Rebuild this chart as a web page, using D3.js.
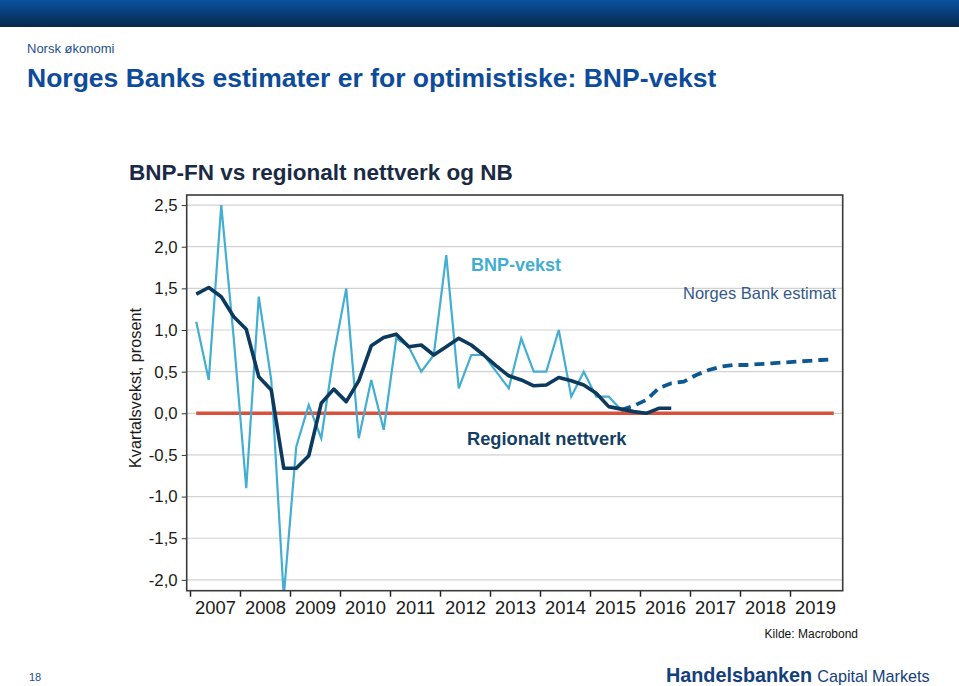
<!DOCTYPE html>
<html><head><meta charset="utf-8">
<script src="https://cdn.jsdelivr.net/npm/d3@7"></script>
<style>
body{margin:0;background:#fff}
svg{display:block}
text{font-family:"Liberation Sans",Arial,Helvetica,sans-serif}
</style>
</head><body>
<svg id="c" width="959" height="686"></svg>
<script>
// ---------- DATA ----------
const quarters = [
 "2007Q1","2007Q2","2007Q3","2007Q4","2008Q1","2008Q2","2008Q3","2008Q4",
 "2009Q1","2009Q2","2009Q3","2009Q4","2010Q1","2010Q2","2010Q3","2010Q4",
 "2011Q1","2011Q2","2011Q3","2011Q4","2012Q1","2012Q2","2012Q3","2012Q4",
 "2013Q1","2013Q2","2013Q3","2013Q4","2014Q1","2014Q2","2014Q3","2014Q4",
 "2015Q1","2015Q2","2015Q3","2015Q4","2016Q1","2016Q2","2016Q3","2016Q4",
 "2017Q1","2017Q2","2017Q3","2017Q4","2018Q1","2018Q2","2018Q3","2018Q4",
 "2019Q1","2019Q2","2019Q3","2019Q4"];
// BNP-FN (Fastlands-Norge), kvartalsvekst
const bnpVekst = [
 1.1, 0.4, 2.5, 0.9, -0.9, 1.4, 0.4, -2.2,
 -0.4, 0.1, -0.3, 0.7, 1.5, -0.3, 0.4, -0.2,
 0.9, 0.8, 0.5, 0.7, 1.9, 0.3, 0.7, 0.7,
 0.5, 0.3, 0.9, 0.5, 0.5, 1.0, 0.2, 0.5,
 0.2, 0.2, 0.04, null, null, null, null, null,
 null, null, null, null, null, null, null, null,
 null, null, null, null];
// Regionalt nettverk
const regionaltNettverk = [
 1.43, 1.51, 1.40, 1.16, 1.01, 0.44, 0.28, -0.66,
 -0.66, -0.51, 0.12, 0.29, 0.14, 0.39, 0.81, 0.91,
 0.95, 0.80, 0.82, 0.70, 0.80, 0.90, 0.82, 0.70,
 0.57, 0.45, 0.40, 0.33, 0.34, 0.43, 0.39, 0.34,
 0.24, 0.08, 0.05, 0.02, 0.00, 0.06, 0.06, null,
 null, null, null, null, null, null, null, null,
 null, null, null, null];
// Norges Bank estimat
const nbEstimat = [
 null, null, null, null, null, null, null, null,
 null, null, null, null, null, null, null, null,
 null, null, null, null, null, null, null, null,
 null, null, null, null, null, null, null, null,
 null, null, 0.04, 0.09, 0.16, 0.30, 0.36, 0.38,
 0.46, 0.52, 0.56, 0.58, 0.58, 0.59, 0.60, 0.61,
 0.62, 0.63, 0.64, 0.65];
const referanseNivaa = 0;
const yTicks = [2.5, 2.0, 1.5, 1.0, 0.5, 0.0, -0.5, -1.0, -1.5, -2.0];
const yearTicks = [2007,2008,2009,2010,2011,2012,2013,2014,2015,2016,2017,2018,2019];
const yearLabels = ["2007","2008","2009","2010","2011","2012","2013","2014","2015","2016","2017","2018","2019"];

// ---------- LAYOUT ----------
const svg = d3.select("#c");
const P = {l:186.7, r:842.7, t:195, b:590.7};

const qToYear = q => +q.slice(0,4) + (+q.slice(5) - 1)/4 + 0.125;
const x = d3.scaleLinear().domain([2006.934, 2020.054]).range([P.l, P.r]);
const y = d3.scaleLinear().domain([-2.13, 2.621]).range([P.b, P.t]);

// header banner
const defs = svg.append("defs");
const g1 = defs.append("linearGradient").attr("id","ban").attr("x1",0).attr("y1",0).attr("x2",0).attr("y2",1);
g1.append("stop").attr("offset","0%").attr("stop-color","#0b52a0");
g1.append("stop").attr("offset","100%").attr("stop-color","#05284c");
svg.append("rect").attr("x",0).attr("y",0).attr("width",959).attr("height",27).attr("fill","url(#ban)");
defs.append("clipPath").attr("id","clip").append("rect")
  .attr("x",P.l).attr("y",P.t).attr("width",P.r-P.l).attr("height",P.b-P.t);

svg.append("text").attr("x",27).attr("y",53).attr("font-size",13).attr("fill","#1c4f91").text("Norsk økonomi");
svg.append("text").attr("x",27).attr("y",87).attr("font-size",26.5).attr("font-weight","bold")
  .attr("fill","#0d4c9a").text("Norges Banks estimater er for optimistiske: BNP-vekst");

svg.append("text").attr("x",129).attr("y",180).attr("font-size",22.5).attr("font-weight","bold")
  .attr("fill","#1b2a44").text("BNP-FN vs regionalt nettverk og NB");

// gridlines
svg.append("g").selectAll("line").data(yTicks).join("line")
  .attr("x1",P.l).attr("x2",P.r).attr("y1",d=>y(d)).attr("y2",d=>y(d))
  .attr("stroke","#d2d2d2").attr("stroke-width",1.2);

// y axis
const fmt = d3.formatLocale({decimal:",",thousands:" ",grouping:[3],currency:["","kr"],minus:"-"}).format(".1f");
const yAx = svg.append("g").attr("transform",`translate(${P.l},0)`)
  .call(d3.axisLeft(y).tickValues(yTicks).tickFormat(fmt).tickSize(5).tickPadding(4));
yAx.select(".domain").remove();
yAx.selectAll("line").attr("stroke","#333");
yAx.selectAll("text").attr("font-size",16.8).attr("fill","#1a1a1a")
  .style("font-family","'Liberation Sans',Arial,sans-serif");

// x axis: tick marks at year starts, labels mid-year
const xAx = svg.append("g").attr("transform",`translate(0,${P.b})`)
  .call(d3.axisBottom(x).tickValues(yearTicks).tickFormat("").tickSize(6));
xAx.select(".domain").remove();
xAx.selectAll("line").attr("stroke","#222").attr("stroke-width",1.5);
const xLab = svg.append("g").attr("transform",`translate(0,${P.b})`)
  .call(d3.axisBottom(x).tickValues(yearTicks.map(v=>v+0.5)).tickFormat((d,i)=>yearLabels[i]).tickSize(0).tickPadding(10));
xLab.select(".domain").remove();
xLab.selectAll("text").attr("font-size",18.4).attr("fill","#1a1a1a")
  .style("font-family","'Liberation Sans',Arial,sans-serif");

// y title
svg.append("text").attr("transform","translate(141,388) rotate(-90)")
  .attr("text-anchor","middle").attr("font-size",16.3).attr("fill","#1a1a1a").text("Kvartalsvekst, prosent");

// series
const plot = svg.append("g").attr("clip-path","url(#clip)");
const line = d3.line().defined(d=>d.v!=null).x(d=>x(d.t)).y(d=>y(d.v));
const ser = arr => quarters.map((q,i)=>({t:qToYear(q), v:arr[i]}));

plot.append("path").datum([{t:qToYear(quarters[0]),v:referanseNivaa},{t:qToYear(quarters[quarters.length-1]),v:referanseNivaa}])
  .attr("d",line).attr("fill","none").attr("stroke","#d9503c").attr("stroke-width",3.5);
plot.append("path").datum(ser(nbEstimat)).attr("d",line).attr("fill","none")
  .attr("stroke","#0d5890").attr("stroke-width",3.8).attr("stroke-dasharray","10,6");
plot.append("path").datum(ser(bnpVekst)).attr("d",line).attr("fill","none")
  .attr("stroke","#43aed2").attr("stroke-width",2.2).attr("stroke-linejoin","miter");
plot.append("path").datum(ser(regionaltNettverk)).attr("d",line).attr("fill","none")
  .attr("stroke","#0b3a5e").attr("stroke-width",3.6).attr("stroke-linejoin","round");

// frame
svg.append("rect").attr("x",P.l).attr("y",P.t).attr("width",P.r-P.l).attr("height",P.b-P.t)
  .attr("fill","none").attr("stroke","#3a3a3a").attr("stroke-width",1.6);

// annotations
svg.append("text").attr("x",471).attr("y",271).attr("font-size",18).attr("font-weight","bold")
  .attr("fill","#43aed2").text("BNP-vekst");
svg.append("text").attr("x",683).attr("y",299).attr("font-size",16.5)
  .attr("fill","#34598a").text("Norges Bank estimat");
svg.append("text").attr("x",467).attr("y",445).attr("font-size",18.3).attr("font-weight","bold")
  .attr("fill","#133f66").text("Regionalt nettverk");

// footer
svg.append("text").attr("x",858).attr("y",638).attr("text-anchor","end").attr("font-size",12)
  .attr("fill","#111").text("Kilde: Macrobond");
svg.append("text").attr("x",29).attr("y",681).attr("font-size",11).attr("fill","#1c4f91").text("18");
const brand = svg.append("text").attr("x",666).attr("y",682).attr("fill","#13407c");
brand.append("tspan").attr("font-size",19.8).attr("font-weight","bold").text("Handelsbanken");
brand.append("tspan").attr("dx",5).attr("font-size",16.2).text("Capital Markets");
</script>
</body></html>
